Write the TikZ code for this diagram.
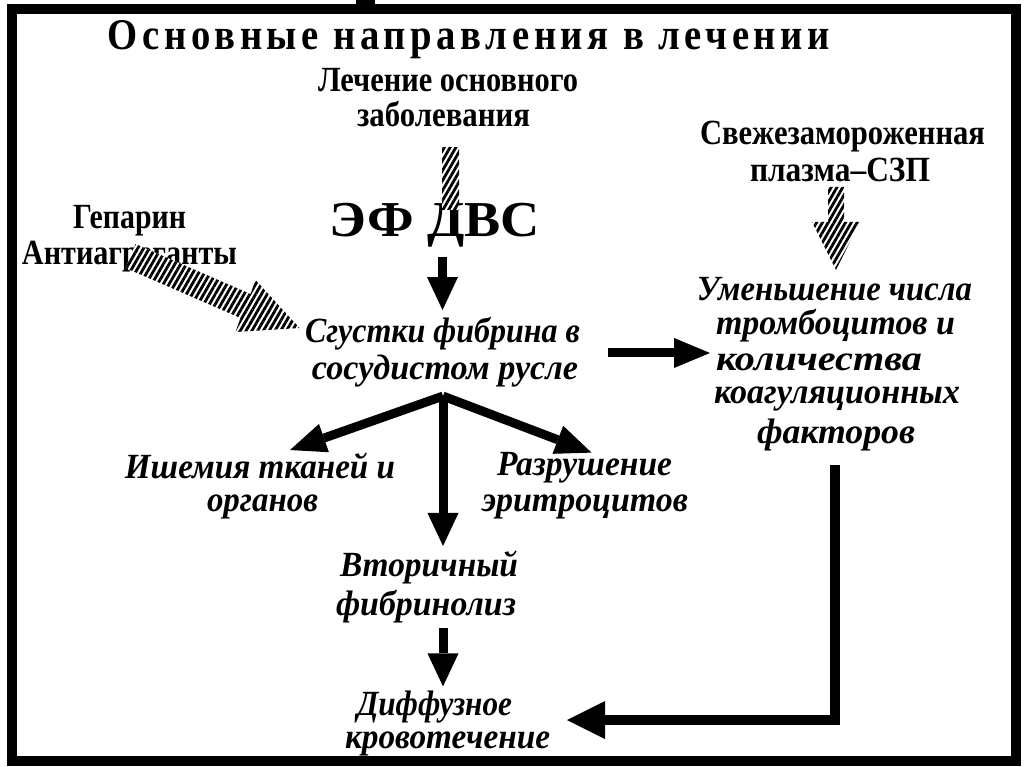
\documentclass[tikz,border=0pt]{standalone}
\usepackage{fontspec}
\setmainfont{Liberation Serif}
\newfontfamily\titlefont{Liberation Serif}[LetterSpace=12]
\usepackage{graphicx}
\usetikzlibrary{arrows.meta,calc,patterns.meta}
\newcommand\fitbox[3]{\resizebox*{#1pt}{#2pt}{#3}}
\newcommand\fitw[2]{\resizebox{#1pt}{1.22\height}{#2}}
\tikzset{
  lbl/.style={inner sep=0pt, outer sep=0pt, anchor=center},
  up/.style={lbl, font=\fontsize{29}{30}\selectfont\bfseries},
  it/.style={lbl, font=\fontsize{29}{30}\selectfont\bfseries\itshape},
  blk/.style={line width=9pt, -{Triangle[width=31pt,length=33pt,line width=0pt]}},
  blkb/.style={line width=9pt, miter limit=20, -{Triangle[width=30pt,length=36pt,line width=0pt]}},
  blkc/.style={line width=10pt, -{Triangle[width=38pt,length=38pt,line width=0pt]}},
  hatch/.style={preaction={fill=white}, pattern={Lines[angle=60,distance=5pt,line width=2.8pt]}},
  frame/.style={line width=10pt}
}
\begin{document}
\begin{tikzpicture}[x=1pt,y=-1pt]
\useasboundingbox (0,0) rectangle (1024,767);
\fill[white] (0,0) rectangle (1024,767);
\draw[frame] (12,9) rectangle (1016,761);
\fill (356,0) rectangle (375,4);

% texts
\node[lbl, anchor=base, font=\titlefont\bfseries] (title) at (469,50) {\resizebox{722pt}{29pt}{Основные направления в лечении}};
\node[up] (lech1) at (448,80.5) {\fitw{260}{Лечение основного}};
\node[up] (lech2) at (443.5,114.5) {\fitw{173}{заболевания}};
\node[lbl, font=\bfseries] (dvs) at (435,225) {\fitbox{210}{44}{ЭФ ДВС}};
\node[up] (gep) at (129.5,221) {\fitw{113}{Гепарин}};
\node[up] (anti) at (129.5,257) {\fitw{215}{Антиагреганты}};
\node[up] (svezh) at (842.5,136.5) {\fitw{285}{Свежезамороженная}};
\node[up] (plazma) at (840,170) {\fitw{180}{плазма–СЗП}};
\node[it] (um1) at (834.5,289.5) {\fitw{275}{Уменьшение числа}};
\node[it] (um2) at (835.5,325.5) {\fitw{239}{тромбоцитов и}};
\node[it] (um3) at (819,362) {\fitw{206}{количества}};
\node[it] (um4) at (837,399) {\fitw{246}{коагуляционных}};
\node[it] (um5) at (836,434.5) {\fitw{158}{факторов}};
\node[it] (sg1) at (442.5,333.5) {\fitw{275}{Сгустки фибрина в}};
\node[it] (sg2) at (445,371) {\fitw{266}{сосудистом русле}};
\node[it] (ish1) at (260,466) {\fitw{270}{Ишемия тканей и}};
\node[it] (ish2) at (262.5,506.5) {\fitw{111}{органов}};
\node[it] (raz1) at (584.5,468) {\fitw{175}{Разрушение}};
\node[it] (raz2) at (585,506.5) {\fitw{206}{эритроцитов}};
\node[it] (vt1) at (429,567.5) {\fitw{178}{Вторичный}};
\node[it] (vt2) at (426,607) {\fitw{180}{фибринолиз}};
\node[it] (dif1) at (434.5,707.5) {\fitw{155}{Диффузное}};
\node[it] (dif2) at (447.5,743.5) {\fitw{205}{кровотечение}};

% hatched connectors
\path[hatch] ($(lech2.south)+(-1.5pt,-20pt)$) rectangle ($(dvs.north -| lech2.south)+(15.5pt,-7pt)$);
\coordinate (hr) at ($(plazma.south)+(-4pt,-5pt)$);
\path[hatch, shift={(hr)}] (-8,0) -- (8,0) -- (8,35) -- (24,35) -- (0,83) -- (-24,35) -- (-8,35) -- cycle;
\coordinate (hl) at ($(anti.center)+(0pt,1pt)$);
\path[hatch, shift={(hl)}] (6,-12) -- (121,38) -- (126,24) -- (170,72) -- (106,76) -- (111,62) -- (-4,12) -- cycle;

% black connectors
\draw[blk] ($(dvs.south -| sg1.north)+(0,-10pt)$) -- ($(sg1.north)+(0,7pt)$);
\draw[blkb] ($(sg1.south east)+(28pt,-3pt)$) -- ($(sg1.south east -| um2.west)+(-6pt,-3pt)$);
\coordinate (j) at ($(sg2.south)+(-2pt,-9pt)$);
\draw[blkb] (j) -- ($(ish1.north)+(30pt,3pt)$);
\draw[blkb] (j) -- ($(raz1.north)+(7pt,0pt)$);
\draw[blk] (j) -- ($(j |- vt1.north)+(0,5pt)$);
\draw[blk] ($(vt2.south -| j)+(0,-5pt)$) -- ($(dif1.north -| j)+(0,5pt)$);
\draw[blkc] ($(um5.south)+(-1pt,-14pt)$) |- ($(dif1.east)+(55pt,-12.5pt)$);
\end{tikzpicture}
\end{document}
